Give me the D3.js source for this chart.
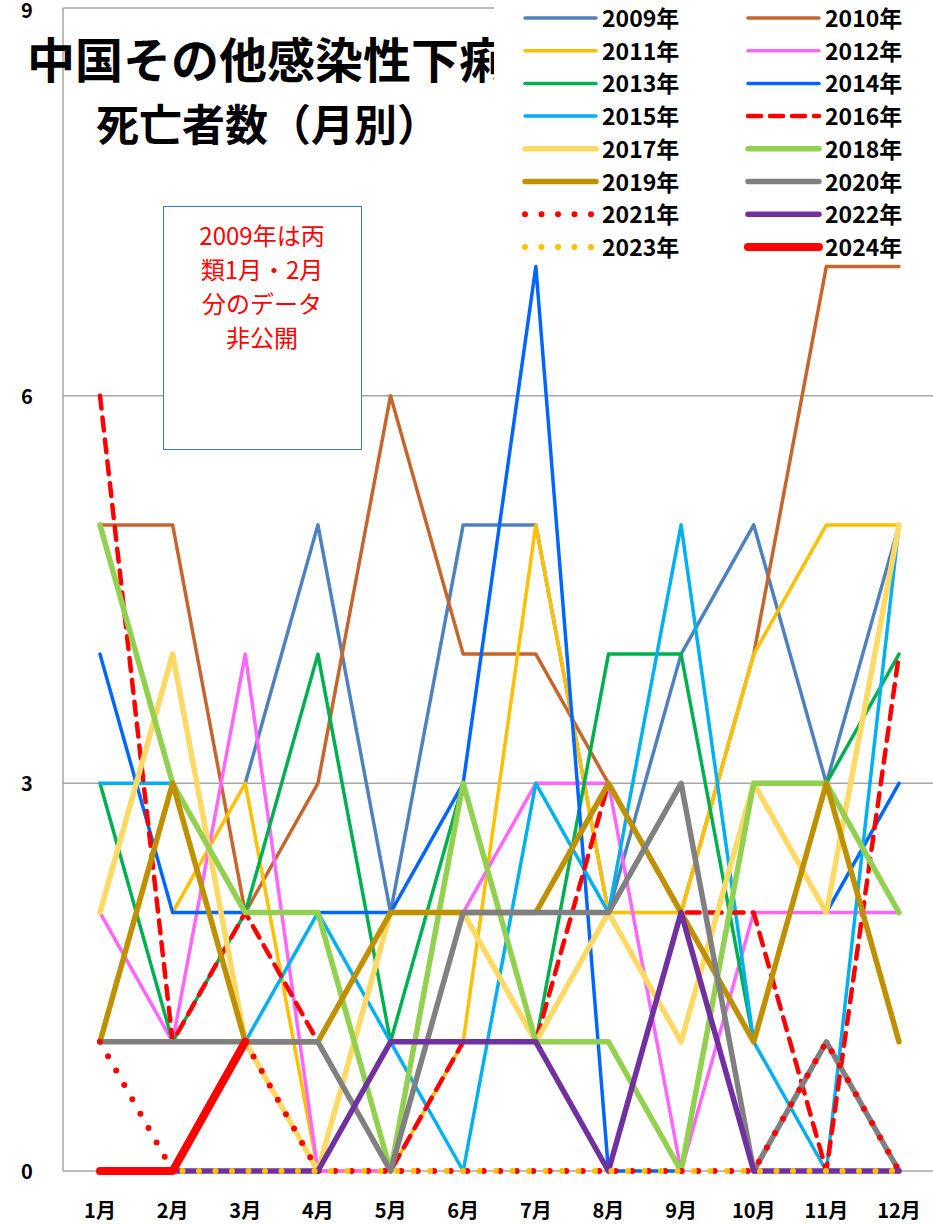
<!DOCTYPE html>
<html lang="ja">
<head>
<meta charset="UTF-8">
<title>中国その他感染性下痢症 死亡者数</title>
<script src="https://d3js.org/d3.v7.min.js"></script>
<style>
  body { margin: 0; background: #fff; }
  text { font-family: "Noto Sans CJK JP", "Noto Sans", sans-serif; }
</style>
</head>
<body>
<script>
// months and yearly series (null = no data)
var months = ["1月","2月","3月","4月","5月","6月","7月","8月","9月","10月","11月","12月"];
var yTicks = [0, 3, 6, 9];

var d2009 = [null,null,3,5,2,5,5,2,4,5,3,5];
var d2010 = [5,5,2,3,6,4,4,3,2,4,7,7];
var d2011 = [null,2,3,0,0,1,5,2,2,4,5,5];
var d2012 = [2,1,4,0,0,2,3,3,0,2,2,2];
var d2013 = [3,1,2,4,1,3,1,4,4,1,3,4];
var d2014 = [4,2,2,2,2,3,7,0,0,null,2,3];
var d2015 = [3,3,1,2,1,0,3,2,5,1,0,5];
var d2016 = [6,1,2,1,0,1,1,3,2,2,0,4];
var d2017 = [2,4,1,0,2,2,1,2,1,3,2,5];
var d2018 = [5,3,2,2,0,3,1,1,0,3,3,2];
var d2019 = [1,3,1,1,2,2,2,3,2,1,3,1];
var d2020 = [1,1,1,1,0,2,2,2,3,0,1,0];
var d2021 = [1,0,1,0,0,0,0,0,0,0,1,0];
var d2022 = [0,0,0,0,1,1,1,0,2,0,0,0];
var d2023 = [0,0,0,0,0,0,0,0,0,0,0,0];
var d2024 = [0,0,1,null,null,null,null,null,null,null,null,null];

var years = ["2009年","2010年","2011年","2012年","2013年","2014年","2015年","2016年",
             "2017年","2018年","2019年","2020年","2021年","2022年","2023年","2024年"];
var values = [d2009,d2010,d2011,d2012,d2013,d2014,d2015,d2016,
              d2017,d2018,d2019,d2020,d2021,d2022,d2023,d2024];

// styles per series
var colors = ["#4f81bd","#c4662e","#ffc000","#ff66ff","#00b050","#0066ff","#00b0f0","#ff0000",
              "#ffd966","#92d050","#bf9000","#808080","#ff0000","#7030a0","#ffc000","#ff0000"];
var widths = [3.5,3.5,3.5,3.5,3.5,3.5,3.5,4.5, 5.5,5.5,5.5,5.5,6,5.5,6,8];
var dashes = [null,null,null,null,null,null,null,"13 9", null,null,null,null,"0 16.5",null,"0 16.5",null];

var width = 933, height = 1224;
var svg = d3.select("body").append("svg")
    .attr("width", width)
    .attr("height", height);

var x = d3.scalePoint().domain(months).range([100, 899]);
var y = d3.scaleLinear().domain([0, 9]).range([1171, 8]);

// gridlines
svg.append("g").selectAll("line")
    .data(yTicks)
    .enter().append("line")
    .attr("x1", 63).attr("x2", width)
    .attr("y1", function (d) { return y(d); })
    .attr("y2", function (d) { return y(d); })
    .attr("stroke", "#a6a6a6")
    .attr("stroke-width", 1.5);

svg.append("line")
    .attr("x1", 63).attr("x2", 63)
    .attr("y1", y(9)).attr("y2", y(0))
    .attr("stroke", "#a6a6a6")
    .attr("stroke-width", 1.5);

// y tick labels (top one nudged so it stays inside the page)
svg.append("g").selectAll("text")
    .data(yTicks)
    .enter().append("text")
    .attr("x", 27)
    .attr("y", function (d) { return Math.max(y(d) + 8, 18); })
    .attr("text-anchor", "middle")
    .attr("font-size", 20)
    .attr("font-weight", "bold")
    .text(function (d) { return d; });

// x tick labels
svg.append("g").selectAll("text")
    .data(months)
    .enter().append("text")
    .attr("x", function (d) { return x(d); })
    .attr("y", 1218)
    .attr("text-anchor", "middle")
    .attr("font-size", 20)
    .attr("font-weight", "bold")
    .text(function (d) { return d; });

var line = d3.line()
    .defined(function (d) { return d != null; })
    .x(function (d, i) { return x(months[i]); })
    .y(function (d) { return y(d); });

// series, drawn in year order so later years lie on top
svg.append("g").selectAll("path")
    .data(values)
    .enter().append("path")
    .attr("d", line)
    .attr("fill", "none")
    .attr("stroke", function (d, i) { return colors[i]; })
    .attr("stroke-width", function (d, i) { return widths[i]; })
    .attr("stroke-dasharray", function (d, i) { return dashes[i]; })
    .attr("stroke-linecap", "round")
    .attr("stroke-linejoin", "round");

// title
svg.append("text")
    .attr("x", 27).attr("y", 78)
    .attr("font-size", 48)
    .attr("font-weight", "bold")
    .text("中国その他感染性下痢症の");
svg.append("text")
    .attr("x", 96).attr("y", 141)
    .attr("font-size", 43)
    .attr("font-weight", "bold")
    .text("死亡者数（月別）");

// note box
var note = ["2009年は丙", "類1月・2月", "分のデータ", "非公開"];
svg.append("rect")
    .attr("x", 163.5).attr("y", 206.5)
    .attr("width", 198).attr("height", 243)
    .attr("fill", "#fff")
    .attr("stroke", "#3a7bd5")
    .attr("stroke-width", 1);
svg.append("g").selectAll("text")
    .data(note)
    .enter().append("text")
    .attr("x", 262)
    .attr("y", function (d, i) { return 245 + i * 34; })
    .attr("text-anchor", "middle")
    .attr("font-size", 24)
    .attr("fill", "#ff0000")
    .text(function (d) { return d; });

// legend (covers the end of the title, as in the original)
var legend = svg.append("g");
legend.append("rect")
    .attr("x", 494).attr("y", 0)
    .attr("width", width - 494).attr("height", 262)
    .attr("fill", "#fff");

var item = legend.selectAll("g")
    .data(years)
    .enter().append("g")
    .attr("transform", function (d, i) {
        var col = i % 2, row = Math.floor(i / 2);
        return "translate(" + (col == 0 ? 525 : 748) + "," + (18 + row * 32.7) + ")";
    });
item.append("line")
    .attr("x1", 0).attr("x2", 71)
    .attr("stroke", function (d, i) { return colors[i]; })
    .attr("stroke-width", function (d, i) { return widths[i]; })
    .attr("stroke-dasharray", function (d, i) { return dashes[i]; })
    .attr("stroke-linecap", "round");
item.append("text")
    .attr("x", 77)
    .attr("y", 9)
    .attr("font-size", 23)
    .attr("font-weight", "bold")
    .text(function (d) { return d; });
</script>
</body>
</html>
